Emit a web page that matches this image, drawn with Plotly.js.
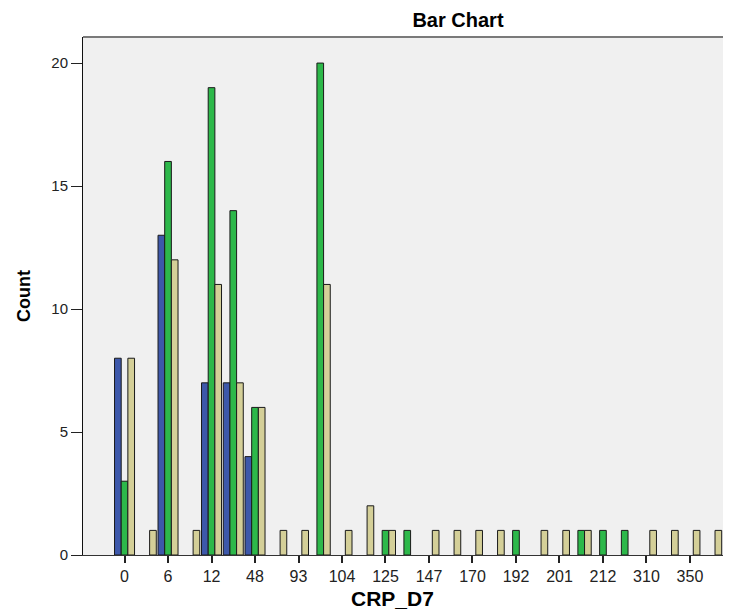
<!DOCTYPE html>
<html>
<head>
<meta charset="utf-8">
<script src="https://cdn.plot.ly/plotly-3.0.1.min.js"></script>
<style>html,body{margin:0;padding:0;background:#fff;}#chart{width:735px;height:616px;}</style>
</head>
<body>
<div id="chart"></div>
<script>
// Categories of CRP_D7 (every other label is hidden by the axis, as in the reference)
var categories = ["0","3","6","9","12","24","48","72","93","96","104","116","125","130","147","160","170","180","192","196","201","208","212","250","310","330","350","400"];
var tickCategories = ["0","6","12","48","93","104","125","147","170","192","201","212","310","350"];
var seriesNames = ["Group 1","Group 2","Group 3"];
var blueCounts  = [8,0,13,0,7,7,4,0,0,0,0,0,0,0,0,0,0,0,0,0,0,0,0,0,0,0,0,0];
var greenCounts = [3,0,16,0,19,14,6,0,0,20,0,0,1,1,0,0,0,0,1,0,0,1,1,1,0,0,0,0];
var tanCounts   = [8,1,12,1,11,7,6,1,1,11,1,2,1,0,1,1,1,1,0,1,1,1,0,0,1,1,1,1];
var yTicks = [0,5,10,15,20];

function nz(a){ return a.map(function(v){ return v === 0 ? null : v; }); }

var colors = ["#3D58AA","#2DB84A","#D4CF98"];
var data = [blueCounts, greenCounts, tanCounts].map(function(vals, i){
  return {
    type: "bar",
    name: seriesNames[i],
    x: categories,
    y: nz(vals),
    marker: {color: colors[i], line: {color: "#1a1a1a", width: 1}},
    hoverinfo: "x+y+name"
  };
});

var font = "Liberation Sans, Arial, sans-serif";
var layout = {
  width: 735, height: 616,
  margin: {l: 83, r: 12, t: 37, b: 61, pad: 0},
  paper_bgcolor: "#ffffff",
  plot_bgcolor: "#F0F0F0",
  showlegend: false,
  barmode: "group",
  bargap: 0.08,
  bargroupgap: 0,
  font: {family: font, size: 16, color: "#222"},
  title: {text: "<b>Bar Chart</b>", x: 458/735, xanchor: "center", xref: "container", y: 1 - 20/616, yref: "container", yanchor: "middle",
          font: {family: font, size: 20, color: "#000"}},
  xaxis: {
    type: "category",
    categoryorder: "array", categoryarray: categories,
    range: [-1.91, 27.52],
    tickmode: "array", tickvals: tickCategories, ticktext: tickCategories,
    ticks: "outside", ticklen: 7, tickwidth: 2, tickcolor: "#222",
    showgrid: false, zeroline: false,
    showline: true, linecolor: "#333", linewidth: 1,
    tickfont: {family: font, size: 16, color: "#222"}
  },
  yaxis: {
    range: [0, 21.06],
    tickmode: "array", tickvals: yTicks,
    ticks: "outside", ticklen: 11, tickwidth: 1, tickcolor: "#222",
    showgrid: false, zeroline: false,
    showline: true, linecolor: "#111", linewidth: 1,
    tickfont: {family: font, size: 15, color: "#222"},
    title: {text: "<b>Count</b>", standoff: 16, font: {family: font, size: 18, color: "#000"}}
  },
  annotations: [{text: "<b>CRP_D7</b>", xref: "paper", yref: "paper", x: (392-83)/640, y: -(598-555)/518,
                 xanchor: "center", yanchor: "middle", showarrow: false,
                 font: {family: font, size: 21, color: "#000"}}],
  shapes: [{type: "line", xref: "paper", yref: "paper", x0: 0, x1: 1, y0: 1, y1: 1,
            line: {color: "#7a7a7a", width: 2}}]
};

Plotly.newPlot("chart", data, layout, {displayModeBar: false, staticPlot: true});
</script>
</body>
</html>
